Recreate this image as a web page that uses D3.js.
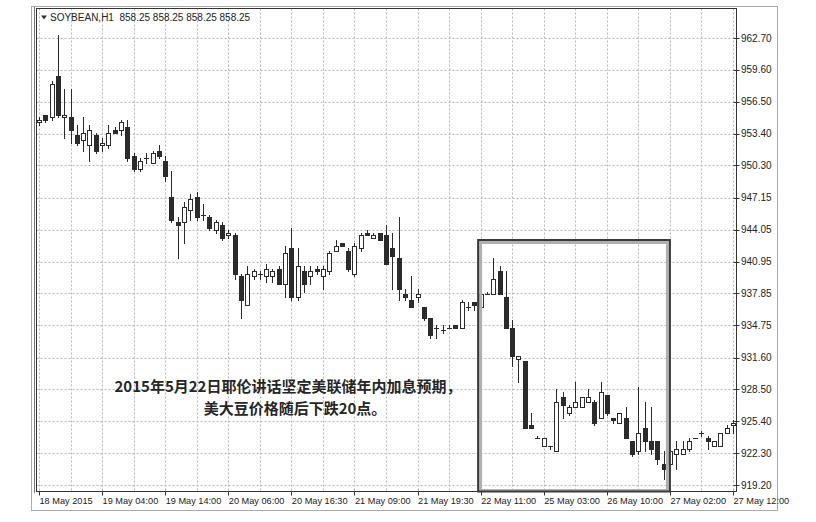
<!DOCTYPE html>
<html><head><meta charset="utf-8">
<script src="https://cdn.jsdelivr.net/npm/d3@7"></script>
<style>body{margin:0;background:#fff}svg{display:block}</style>
</head><body>
<script>
const headerText = "SOYBEAN,H1  858.25 858.25 858.25 858.25";
const priceTicks = [962.70,959.60,956.50,953.40,950.30,947.15,944.05,940.95,937.85,934.75,931.60,928.50,925.40,922.30,919.20];
const timeLabels = ["18 May 2015","19 May 04:00","19 May 14:00","20 May 06:00","20 May 16:30","21 May 09:00","21 May 19:30","22 May 11:00","25 May 03:00","26 May 10:00","27 May 02:00","27 May 12:00"];
const opens = [954.50,955.25,955.00,959.00,955.00,955.00,953.25,952.75,952.25,953.25,
952.25,952.25,953.75,953.75,954.00,951.25,950.00,951.00,950.50,951.75,
950.75,947.25,944.75,944.75,946.00,947.25,945.50,945.25,944.00,944.50,
943.50,943.50,939.50,936.75,939.50,939.75,939.50,939.50,940.25,938.75,
942.25,937.50,940.00,939.50,940.25,939.50,940.00,942.00,942.75,942.00,
939.75,942.25,943.75,943.25,943.75,943.50,942.25,941.25,937.75,937.25,
937.50,936.50,935.50,934.50,934.25,934.50,934.75,934.50,936.50,937.00,
936.50,937.75,937.75,940.00,937.50,934.50,931.50,931.25,925.00,923.75,
923.00,923.00,922.50,927.75,926.25,926.75,926.75,927.25,927.25,925.75,
928.00,925.75,925.25,925.75,923.50,922.50,924.75,923.50,923.50,921.25,
921.25,922.25,922.25,922.75,923.75,924.25,923.75,923.00,923.00,924.25,
925.00];
const highs = [955.00,955.25,958.50,963.00,957.75,957.75,954.25,955.00,954.25,953.50,
953.00,954.25,954.00,954.75,954.75,951.50,951.00,951.50,951.75,952.25,
951.25,949.75,945.25,946.75,947.50,947.75,946.50,945.50,945.00,944.75,
944.00,943.75,939.75,940.50,940.25,940.00,940.75,940.25,940.50,942.50,
944.25,942.25,940.50,940.50,940.50,940.50,942.00,943.00,942.75,942.25,
942.75,943.75,944.00,943.75,943.75,944.50,943.75,945.25,938.25,939.50,
938.25,936.50,935.50,934.75,934.75,934.75,934.75,937.25,937.00,937.00,
938.25,938.00,941.25,940.50,940.00,935.25,931.75,931.25,926.25,924.00,
923.75,923.00,928.50,928.25,927.00,929.25,927.75,928.50,927.50,929.25,
928.00,925.75,926.25,926.75,923.50,928.75,927.25,926.75,923.50,922.50,
922.75,923.50,923.50,923.75,923.75,924.50,924.00,923.50,924.25,925.00,
925.50];
const lows = [954.25,954.50,954.75,955.00,953.00,952.50,952.25,951.75,950.75,951.50,
951.75,952.00,953.50,953.25,950.75,949.75,949.75,950.50,950.50,951.00,
948.75,944.75,941.25,942.75,945.00,945.00,945.00,944.00,943.75,943.00,
943.25,939.25,935.50,936.75,939.25,939.25,939.00,939.00,938.75,937.50,
937.25,937.25,938.00,938.75,939.75,938.25,939.75,942.00,942.50,940.00,
939.50,942.00,943.50,943.25,943.00,940.75,938.25,937.25,937.25,936.50,
937.00,935.25,933.50,933.50,934.00,934.50,934.50,934.50,936.25,936.25,
936.50,937.75,937.75,937.75,934.50,930.75,929.25,924.75,924.75,923.75,
923.00,922.75,922.50,925.75,926.00,926.75,926.75,927.25,925.00,925.75,
926.00,925.25,925.25,923.75,922.00,922.25,922.50,922.25,921.25,919.75,
921.25,920.75,922.25,922.50,923.75,924.00,922.75,923.00,923.00,924.25,
924.25];
const closes = [954.75,954.75,958.25,955.25,955.25,953.75,952.50,953.50,953.75,951.75,
952.50,953.50,953.50,954.50,951.00,950.00,950.75,951.00,951.50,951.25,
949.25,945.00,944.50,946.25,947.00,945.25,945.50,944.25,944.75,943.25,
943.75,939.75,937.25,939.75,940.00,939.75,940.25,940.00,938.75,941.75,
937.50,940.50,938.75,940.00,940.00,940.25,941.75,942.50,942.50,940.25,
942.50,943.50,943.50,943.50,943.00,940.75,941.50,938.25,937.50,936.50,
937.75,935.50,933.75,934.50,934.25,934.50,934.50,937.00,936.50,936.75,
937.75,937.75,939.25,937.75,934.50,931.75,931.75,924.75,924.75,923.75,
923.75,923.00,927.25,927.00,926.75,927.25,927.75,927.75,925.25,928.25,
926.25,925.50,926.25,923.75,922.25,924.25,923.50,922.75,921.75,920.75,
922.50,922.75,922.75,923.50,923.75,924.25,923.50,923.50,924.25,924.75,
925.25];
const noteLines = ["2015年5月22日耶伦讲话坚定美联储年内加息预期，","美大豆价格随后下跌20点。"];
const boxRange = [69.6, 100];   // candle-index span of the highlighted box

const W = 816, H = 522;
const plot = {l: 36.5, t: 8.5, r: 736.5, b: 491.5};
const svg = d3.select("body").append("svg").attr("width", W).attr("height", H);
svg.append("rect").attr("width", W).attr("height", H).attr("fill", "#fff");

const x = d3.scaleLinear().domain([0, opens.length - 1]).range([39, 733]);
const y = d3.scaleLinear().domain([919.20, 962.70]).range([485, 38]);
const snap = v => Math.round(v) + 0.5;

// outer frame
svg.append("rect").attr("x", 31.5).attr("y", 6.5).attr("width", 746).attr("height", 504)
  .attr("fill", "none").attr("stroke", "#aaa");

// grid
const gridG = svg.append("g").attr("stroke", "#b5b5b5").attr("stroke-dasharray", "2,2").attr("stroke-width", 1);
gridG.selectAll("line.h").data(priceTicks).join("line")
  .attr("x1", plot.l).attr("x2", plot.r)
  .attr("y1", d => snap(y(d))).attr("y2", d => snap(y(d)));
gridG.selectAll("line.v").data(d3.range(0, opens.length, 5)).join("line")
  .attr("y1", plot.t).attr("y2", plot.b)
  .attr("x1", d => snap(x(d))).attr("x2", d => snap(x(d)));

// plot border
svg.append("rect").attr("x", plot.l).attr("y", plot.t).attr("width", plot.r - plot.l).attr("height", plot.b - plot.t)
  .attr("fill", "none").attr("stroke", "#333");
svg.append("line").attr("x1", 34.5).attr("x2", 34.5).attr("y1", 7).attr("y2", 493).attr("stroke", "#777");

// candles
const candles = opens.map((o, i) => ({i, o, h: highs[i], l: lows[i], c: closes[i]}));
const cg = svg.append("g");
const cdl = cg.selectAll("g").data(candles).join("g");
cdl.append("line")
  .attr("x1", d => snap(x(d.i))).attr("x2", d => snap(x(d.i)))
  .attr("y1", d => Math.round(y(d.h))).attr("y2", d => Math.round(y(d.l)) + 1)
  .attr("stroke", "#2b2b2b").attr("stroke-width", 1);
cdl.append("rect")
  .attr("x", d => Math.round(x(d.i)) - 1.5)
  .attr("width", 4)
  .attr("y", d => Math.round(y(Math.max(d.o, d.c))) + 0.5)
  .attr("height", d => Math.max(0.001, Math.round(y(Math.min(d.o, d.c))) - Math.round(y(Math.max(d.o, d.c)))))
  .attr("fill", d => d.c > d.o ? "#fff" : "#2b2b2b")
  .attr("stroke", "#2b2b2b").attr("stroke-width", 1);

// right axis ticks & labels
const ax = svg.append("g").attr("font-family", "'Liberation Sans', Arial, sans-serif").attr("font-size", 10).attr("fill", "#222");
ax.selectAll("line").data(priceTicks).join("line")
  .attr("x1", plot.r - 3).attr("x2", plot.r + 3)
  .attr("y1", d => snap(y(d))).attr("y2", d => snap(y(d))).attr("stroke", "#333");
ax.selectAll("text").data(priceTicks).join("text")
  .attr("x", plot.r + 4.5).attr("y", d => y(d) + 3.6)
  .text(d => d.toFixed(2));

// bottom axis
const bx = svg.append("g").attr("font-family", "'Liberation Sans', Arial, sans-serif").attr("font-size", 9.2).attr("fill", "#222");
bx.selectAll("line").data(timeLabels).join("line")
  .attr("x1", (d, k) => snap(x(k * 10))).attr("x2", (d, k) => snap(x(k * 10)))
  .attr("y1", plot.b).attr("y2", plot.b + 4).attr("stroke", "#333");
bx.selectAll("text").data(timeLabels).join("text")
  .attr("x", (d, k) => x(k * 10) + 0.5).attr("y", 504)
  .text(d => d);

// header
svg.append("path").attr("d", "M41,15.5 L47,15.5 L44,19.5 Z").attr("fill", "#333");
svg.append("text").attr("x", 50).attr("y", 21).attr("font-family", "'Liberation Sans', Arial, sans-serif")
  .attr("font-size", 10).attr("fill", "#222").attr("xml:space", "preserve").style("white-space", "pre").text(headerText);

// highlight box
const bx0 = x(boxRange[0]), bx1 = x(boxRange[1]);
svg.append("rect").attr("x", bx0 + 2.5).attr("y", 242.5).attr("width", bx1 - bx0 - 5).attr("height", 248)
  .attr("fill", "none").attr("stroke", "#b0b0b0").attr("stroke-width", 3);
svg.append("rect").attr("x", bx0).attr("y", 240).attr("width", bx1 - bx0).attr("height", 251.5)
  .attr("fill", "none").attr("stroke", "#3a3a3a").attr("stroke-width", 2);

// note
const ng = svg.append("g").attr("font-family", "'Noto Sans CJK SC', sans-serif").attr("font-size", 15)
  .attr("font-weight", 700).attr("fill", "#262626").attr("text-anchor", "middle");
ng.append("text").attr("x", 288).attr("y", 392).text(noteLines[0]);
ng.append("text").attr("x", 295).attr("y", 414).text(noteLines[1]);
</script>
</body></html>
